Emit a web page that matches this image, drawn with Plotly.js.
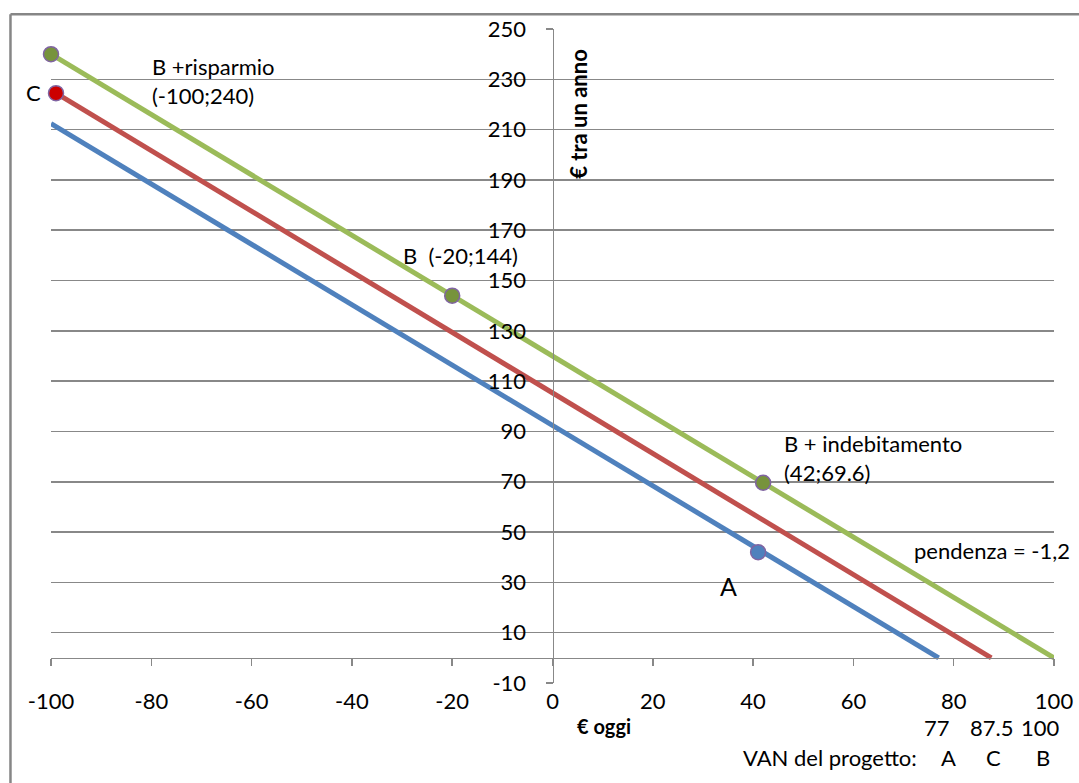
<!DOCTYPE html>
<html>
<head>
<meta charset="utf-8">
<script src="https://cdn.plot.ly/plotly-3.0.1.min.js"></script>
<style>
html,body{margin:0;padding:0;background:#fff;}
#chart{width:1079px;height:783px;}
</style>
</head>
<body>
<div id="chart"></div>
<script>
// ---- data ----
const xTicks = [-100, -80, -60, -40, -20, 0, 20, 40, 60, 80, 100];
const xTickText = ["-100", "-80", "-60", "-40", "-20", "0", "20", "40", "60", "80", "100"];
const yTicks = [-10, 10, 30, 50, 70, 90, 110, 130, 150, 170, 190, 210, 230, 250];
const yTickText = ["-10", "10", "30", "50", "70", "90", "110", "130", "150", "170", "190", "210", "230", "250"];

const lineA_x = [-100, 77];
const lineA_y = [212.4, 0];
const lineC_x = [-99, 87.5];
const lineC_y = [224.5, 0];
const lineB_x = [-100, 100];
const lineB_y = [240, 0];

const pointsB_x = [-100, -20, 42];
const pointsB_y = [240, 144, 69.6];
const pointC_x = [-99];
const pointC_y = [224.5];
const pointA_x = [41];
const pointA_y = [42];

const vanValues = ["77", "87.5", "100"];
const vanProjects = ["A", "C", "B"];

// ---- styles / positions ----
const FONT = "Lato, Carlito, Calibri, 'DejaVu Sans', sans-serif";
const GRID = "#888888";
const FRAME = "#868686";
const BLUE = "#4F81BD", RED = "#C0504D", GREEN = "#9BBB59";
const MARK_EDGE = "#8064A2";
const FS = 22;

const vanPos = [76.7, 87.5, 97.4];
const projPos = [78.9, 87.9, 97.8];

const lineStyle = (c) => ({color: c, width: 5});
const markStyle = (c) => ({color: c, size: 15, line: {color: MARK_EDGE, width: 1.5}});

const traces = [
  {x: lineA_x, y: lineA_y, mode: "lines", line: lineStyle(BLUE), cliponaxis: false, hoverinfo: "skip"},
  {x: lineC_x, y: lineC_y, mode: "lines", line: lineStyle(RED), cliponaxis: false, hoverinfo: "skip"},
  {x: lineB_x, y: lineB_y, mode: "lines", line: lineStyle(GREEN), cliponaxis: false, hoverinfo: "skip"},
  {x: pointsB_x, y: pointsB_y, mode: "markers", xaxis: "x2", marker: markStyle("#77933C"), cliponaxis: false},
  {x: pointC_x, y: pointC_y, mode: "markers", marker: markStyle("#CC0000"), cliponaxis: false},
  {x: pointA_x, y: pointA_y, mode: "markers", marker: markStyle(BLUE), cliponaxis: false}
];

const txt = (text, x, y, extra) => Object.assign({
  text: text, x: x, y: y, xref: "x", yref: "y", showarrow: false,
  yanchor: "middle",
  font: {family: FONT, size: FS, color: "#000"}
}, extra || {});

const annotations = [
  txt("B +risparmio", -80.3, 235.1, {xanchor: "left"}),
  txt("(-100;240)", -80.3, 223.5, {xanchor: "left"}),
  txt("C", -99, 224.8, {xanchor: "right", xshift: -13}),
  txt("B\u00a0\u00a0(-20;144)", -18.4, 159.9, {xanchor: "center"}),
  txt("B + indebitamento", 45.7, 85.4, {xanchor: "left"}),
  txt("(42;69.6)", 45.7, 73.5, {xanchor: "left"}),
  txt("pendenza = -1,2", 71.7, 42.6, {xanchor: "left"}),
  txt("A", 35.0, 28.6, {xanchor: "center", font: {family: FONT, size: 25, color: "#000"}}),
  txt("<b>€ tra un anno</b>", 5.3, 216.3, {textangle: -90, xanchor: "center", font: {family: FONT, size: 22, color: "#000"}}),
  txt("<b>€ oggi</b>", 10.3, 0, {yref: "paper", yshift: -43, xanchor: "center", font: {family: FONT, size: 20, color: "#000"}}),
  txt("VAN del progetto:", 73.0, 0, {yref: "paper", yshift: -74, xanchor: "right"})
];
vanValues.forEach((v, i) => annotations.push(txt(v, vanPos[i], 0, {yref: "paper", yshift: -44, xanchor: "center"})));
vanProjects.forEach((v, i) => annotations.push(txt(v, projPos[i], 0, {yref: "paper", yshift: -74, xanchor: "center"})));

// outer chart frame (only left and top edges are visible in the reference)
const shapes = [
  {type: "line", xref: "paper", yref: "paper", x0: -0.0404, x1: -0.0404, y0: -0.16, y1: 1.0225,
   layer: "above", line: {color: FRAME, width: 2.5}},
  {type: "line", xref: "paper", yref: "paper", x0: -0.0404, x1: 1.03, y0: 1.0225, y1: 1.0225,
   layer: "above", line: {color: FRAME, width: 2.5}}
];

const layout = {
  width: 1079, height: 783,
  margin: {l: 51, r: 25, t: 29, b: 100},
  paper_bgcolor: "#fff", plot_bgcolor: "#fff",
  showlegend: false,
  font: {family: FONT, size: FS, color: "#000"},
  xaxis: {
    range: [-100, 100], anchor: "free", position: 10 / 260,
    tickvals: xTicks, showticklabels: false,
    ticks: "outside", ticklen: 7, tickwidth: 1.5, tickcolor: GRID,
    showline: true, linecolor: GRID, linewidth: 1.5,
    showgrid: false, zeroline: false
  },
  xaxis2: {
    range: [-100, 100], overlaying: "x", anchor: "y", side: "bottom",
    tickmode: "array", tickvals: xTicks, ticktext: xTickText,
    ticks: "", showline: false, showgrid: false, zeroline: false,
    tickfont: {family: FONT, size: FS, color: "#000"}, ticklabelstandoff: 3
  },
  yaxis: {
    range: [-10, 250], anchor: "free", position: 0.5,
    tickmode: "array", tickvals: yTicks, ticktext: yTickText,
    ticks: "outside", ticklen: 7, tickwidth: 1.5, tickcolor: GRID,
    showline: true, linecolor: GRID, linewidth: 1.5,
    showgrid: true, gridcolor: GRID, gridwidth: 1.5, zeroline: false,
    tickfont: {family: FONT, size: FS, color: "#000"}, ticklabelstandoff: 15
  },
  shapes: shapes,
  annotations: annotations
};

Plotly.newPlot("chart", traces, layout, {staticPlot: true, displayModeBar: false});
</script>
</body>
</html>
